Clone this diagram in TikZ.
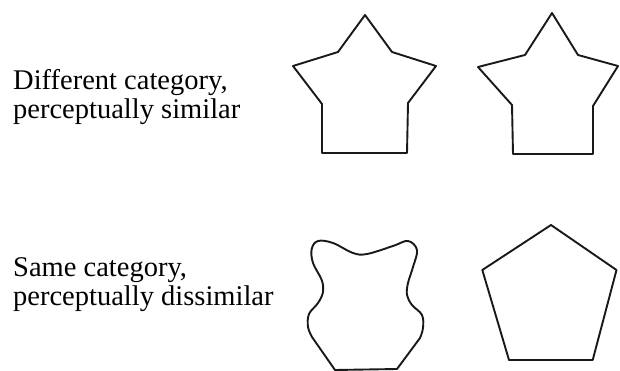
\documentclass[tikz,border=0pt]{standalone}
\usepackage{fontspec}
\setmainfont{Liberation Serif}
\begin{document}
\begin{tikzpicture}[x=1pt,y=-1pt,
  shape line/.style={draw=black!90,line width=1.9pt,line join=round},
  label text/.style={anchor=base west,inner sep=0pt,align=left,font=\fontsize{28.5}{29}\selectfont}]
\useasboundingbox[fill=white] (0,0) rectangle (620,371);
% labels (anchor = baseline of last line)
\node[label text] (l1) at (13,119) {Different category,\\perceptually similar};
\node[label text] (l2) at (13,305) {Same category,\\perceptually dissimilar};
% star 1
\draw[shape line] (365,15) -- (392,52) -- (436,66) -- (408,103) -- (407,153)
  -- (322,153) -- (322,104) -- (293,66) -- (338,52) -- cycle;
% star 2
\draw[shape line] (552,13) -- (578,55) -- (618,66) -- (593,106) -- (593,154)
  -- (513,154) -- (512,105) -- (478,67) -- (525,55) -- cycle;
% blob
\draw[shape line] plot[smooth,tension=0.6] coordinates {
  (312,337) (308,327) (309,314) (318,303) (323,292) (321.7,280) (313,263)
  (311.7,249) (318,241) (333,243) (353,253) (367,254) (393,246) (408,241)
  (417,250) (413,267) (408,283) (407,295) (412,305) (422,315) (423,328) (420,338)}
  -- (397,369) -- (335,370) -- cycle;
% pentagon
\draw[shape line] (551,225) -- (616.5,270) -- (592.7,360) -- (509,360) -- (482.3,270) -- cycle;
\end{tikzpicture}
\end{document}
